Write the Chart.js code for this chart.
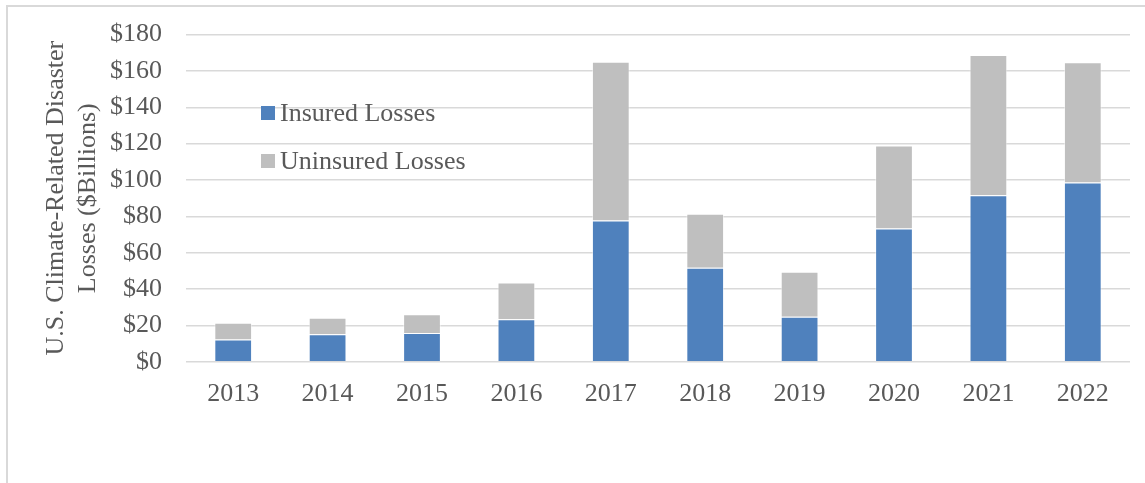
<!DOCTYPE html>
<html>
<head>
<meta charset="utf-8">
<script src="https://cdn.jsdelivr.net/npm/chart.js@4"></script>
<style>
  html, body { margin: 0; padding: 0; background: #fff; overflow: hidden; }
  #frame {
    position: absolute; left: 6px; top: 5px; width: 1139px; height: 478px;
    border-top: 2px solid #d9d9d9; border-left: 2px solid #d9d9d9;
  }
  #wrap { position: absolute; left: 0; top: -5px; width: 1145px; height: 488px; }
</style>
</head>
<body>
<div id="frame"></div>
<div id="wrap"><canvas id="chart"></canvas></div>
<script>
// years on the x axis
const years = ["2013", "2014", "2015", "2016", "2017", "2018", "2019", "2020", "2021", "2022"];
// billions of dollars
const insured = [12.3, 15.1, 15.8, 23.4, 77.8, 51.8, 24.8, 73.4, 91.6, 98.6];
const uninsured = [9.2, 9.2, 10.3, 20.2, 87.3, 29.7, 24.8, 45.6, 77.2, 66.2];
const seriesNames = ["Insured Losses", "Uninsured Losses"];
const axisTitle = ["U.S. Climate-Related Disaster", "Losses ($Billions)"];

const textColor = "#595959";
const serif = "'Liberation Serif', 'Times New Roman', serif";
const colors = ["#4f81bd", "#bfbfbf"];

// legend sits inside the plot, drawn by hand
const insideLegend = {
  id: "insideLegend",
  afterDraw(chart) {
    const ctx = chart.ctx;
    ctx.save();
    ctx.font = "26px " + serif;
    ctx.textBaseline = "middle";
    seriesNames.forEach((name, i) => {
      const y = 118 + i * 48;
      ctx.fillStyle = colors[i];
      ctx.fillRect(261, y - 7, 14, 14);
      ctx.fillStyle = textColor;
      ctx.fillText(name, 280, y + 1);
    });
    ctx.restore();
  },
};

const ctx = document.getElementById("chart").getContext("2d");
new Chart(ctx, {
  type: "bar",
  data: {
    labels: years,
    datasets: [
      {
        label: seriesNames[0],
        data: insured,
        backgroundColor: colors[0],
        borderColor: "rgba(255,255,255,0.5)",
        borderWidth: 1,
      },
      {
        label: seriesNames[1],
        data: uninsured,
        backgroundColor: colors[1],
        borderColor: "rgba(255,255,255,0.5)",
        borderWidth: 1,
      },
    ],
  },
  options: {
    responsive: true,
    maintainAspectRatio: false,
    animation: false,
    layout: { padding: { left: 40, top: 16, right: 15, bottom: 56 } },
    datasets: { bar: { barPercentage: 0.4, categoryPercentage: 1.0 } },
    plugins: {
      legend: { display: false },
      tooltip: { enabled: false },
    },
    scales: {
      x: {
        stacked: true,
        grid: { display: false, drawTicks: false },
        border: { display: false },
        ticks: { color: textColor, font: { family: serif, size: 26 }, padding: 17 },
      },
      y: {
        stacked: true,
        min: 0,
        max: 180,
        afterFit(scale) { scale.width = 146; },
        grid: { color: "#d9d9d9", lineWidth: 1.5, drawTicks: false },
        border: { display: false },
        ticks: {
          stepSize: 20,
          color: textColor,
          font: { family: serif, size: 26 },
          padding: 24,
          callback: (v) => "$" + v,
        },
        title: {
          display: true,
          text: axisTitle,
          color: textColor,
          font: { family: serif, size: 26, lineHeight: 1.23 },
          padding: { top: 0, bottom: 6 },
        },
      },
    },
  },
  plugins: [insideLegend],
});
</script>
</body>
</html>
